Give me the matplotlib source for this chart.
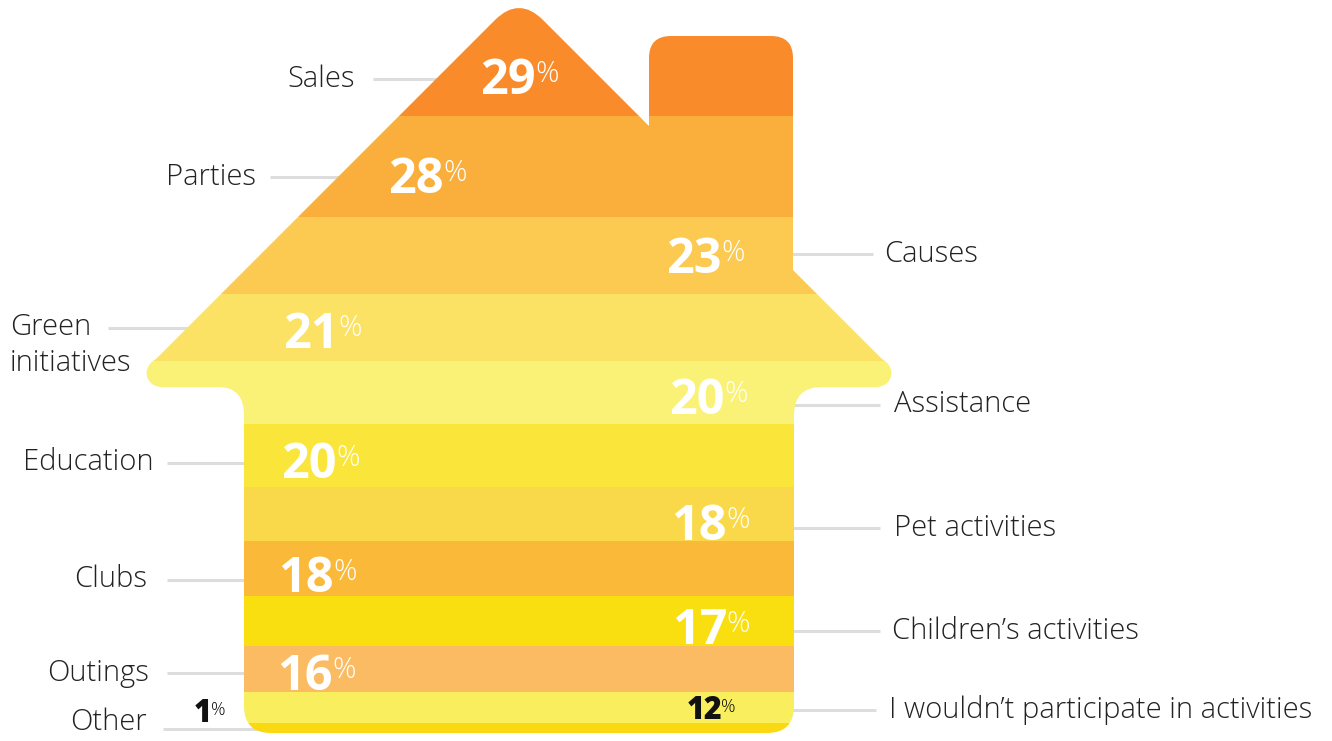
import numpy as np
import matplotlib.pyplot as plt
from matplotlib.path import Path
from matplotlib.patches import PathPatch

plt.rcParams['font.family'] = ['Open Sans', 'DejaVu Sans']

# survey answers, top of the house to the bottom
categories = ['Sales', 'Parties', 'Causes', 'Green\ninitiatives', 'Assistance',
              'Education', 'Pet activities', 'Clubs', 'Children\u2019s activities',
              'Outings', 'I wouldn\u2019t participate in activities', 'Other']
values = [29, 28, 23, 21, 20, 20, 18, 18, 17, 16, 12, 1]
band_colors = ['#F98B2B', '#FAAF3C', '#FCC951', '#FBE264', '#FAF276', '#FAE63A',
               '#F9D94A', '#FBB93A', '#F9DE10', '#FABB63', '#F9EF5E', '#FAD913']

# layout (pixel space, y down)
W, H = 1332, 741
TOP, BOTTOM = 10, 733
side = ['L', 'L', 'R', 'L', 'R', 'L', 'R', 'L', 'R', 'L', 'R', 'L']
num_x = [536, 444, 722, 339, 725, 337, 727, 334, 727, 333, 722, 212]
num_dy = [13, 9, 0, 3, 4, 5, 8, 6, 6, 3, 0, -17]
lead_dy = [16, 11, -1, 1, 12, 7, 14, 11, 10, 4, 2, 1]
text_dy = [0, 0, 0, 0, 0, 0, 0, 0, 0, 0, 0, -7]
text_x = [355, 256, 884, 10, 894, 153, 894, 147, 892, 149, 889, 147]
lead_x = [373, 270, 873, 108, 880, 167, 880, 167, 880, 167, 876, 163]

fig = plt.figure(figsize=(W / 100, H / 100), dpi=100)
ax = fig.add_axes([0, 0, 1, 1])
ax.set_xlim(0, W)
ax.set_ylim(H, 0)
ax.axis('off')

# house outline used as clip path for the bands
L3, L4 = Path.CURVE3, Path.CURVE4
verts = [(244, 708), (244, 415), (244, 387), (218, 387), (162, 387),
         (146, 387), (140, 368), (156, 359),
         (495, 20), (519, -4), (543, 20),
         (649, 126), (649, 58), (649, 36), (671, 36), (771, 36), (793, 36), (793, 58),
         (793, 270), (882, 359), (898, 368), (892, 387), (876, 387),
         (822, 387), (794, 387), (794, 415),
         (794, 706), (794, 733), (767, 733), (271, 733), (244, 733), (244, 706),
         (244, 708)]
codes = [Path.MOVETO, Path.LINETO, L3, L3, Path.LINETO,
         L4, L4, L4,
         Path.LINETO, L3, L3,
         Path.LINETO, Path.LINETO, L3, L3, Path.LINETO, L3, L3,
         Path.LINETO, Path.LINETO, L4, L4, L4,
         Path.LINETO, L3, L3,
         Path.LINETO, L3, L3, Path.LINETO, L3, L3,
         Path.CLOSEPOLY]
house = PathPatch(Path(verts, codes), facecolor='none', lw=0)
ax.add_patch(house)

# band heights grow a little faster than the share itself
v = np.array(values, dtype=float)
w = v ** 1.4
h = w * (BOTTOM - TOP) / w.sum()
small = h < 10
h[small] = 10
h[~small] = w[~small] * (BOTTOM - TOP - 10 * small.sum()) / w[~small].sum()
tops = TOP + np.concatenate([[0], np.cumsum(h)[:-1]])
centers = tops + h / 2
bar_tops = tops.copy()
bar_tops[0] = 0  # first band runs up into the roof peak
bar_h = tops + h - bar_tops

bars = ax.barh(bar_tops + bar_h / 2, width=W, left=0, height=bar_h,
               color=band_colors, zorder=2)
for b in bars:
    b.set_clip_path(house)

# leader lines and category labels
for i, cat in enumerate(categories):
    y = centers[i] + lead_dy[i]
    if side[i] == 'L':
        ax.plot([lead_x[i], 520], [y, y], color='#DDDDDD', lw=2.2, zorder=1,
                solid_capstyle='butt')
    else:
        ax.plot([520, lead_x[i]], [y, y], color='#DDDDDD', lw=2.2, zorder=1,
                solid_capstyle='butt')
    if '\n' in cat:
        ax.text(text_x[i], y - 16, cat, ha='left', va='top', fontsize=21,
                color='#222222', fontweight='light', linespacing=1.3)
    else:
        ax.text(text_x[i], y + text_dy[i], cat,
                ha='left' if side[i] == 'R' else 'right',
                va='center', fontsize=21, color='#222222', fontweight='light')

# value labels: bold number with a light superscript percent sign
for i, val in enumerate(values):
    yc = centers[i] + num_dy[i]
    if val >= 15:
        big, pct, col, weight, lift, gap = 35, 21, 'white', 'bold', 12, -1
    else:
        big, pct, col, weight, lift, gap = 22, 13, '#111111', 'heavy', 7, -0.5
    base = yc + big / 2
    ax.text(num_x[i], base, str(val), ha='right', va='baseline', fontsize=big,
            fontweight=weight, color=col, zorder=3)
    ax.text(num_x[i] + gap, base - lift, '%', ha='left', va='baseline',
            fontsize=pct, fontweight='light', color=col, zorder=3)

fig.savefig('out.png', dpi=100)
